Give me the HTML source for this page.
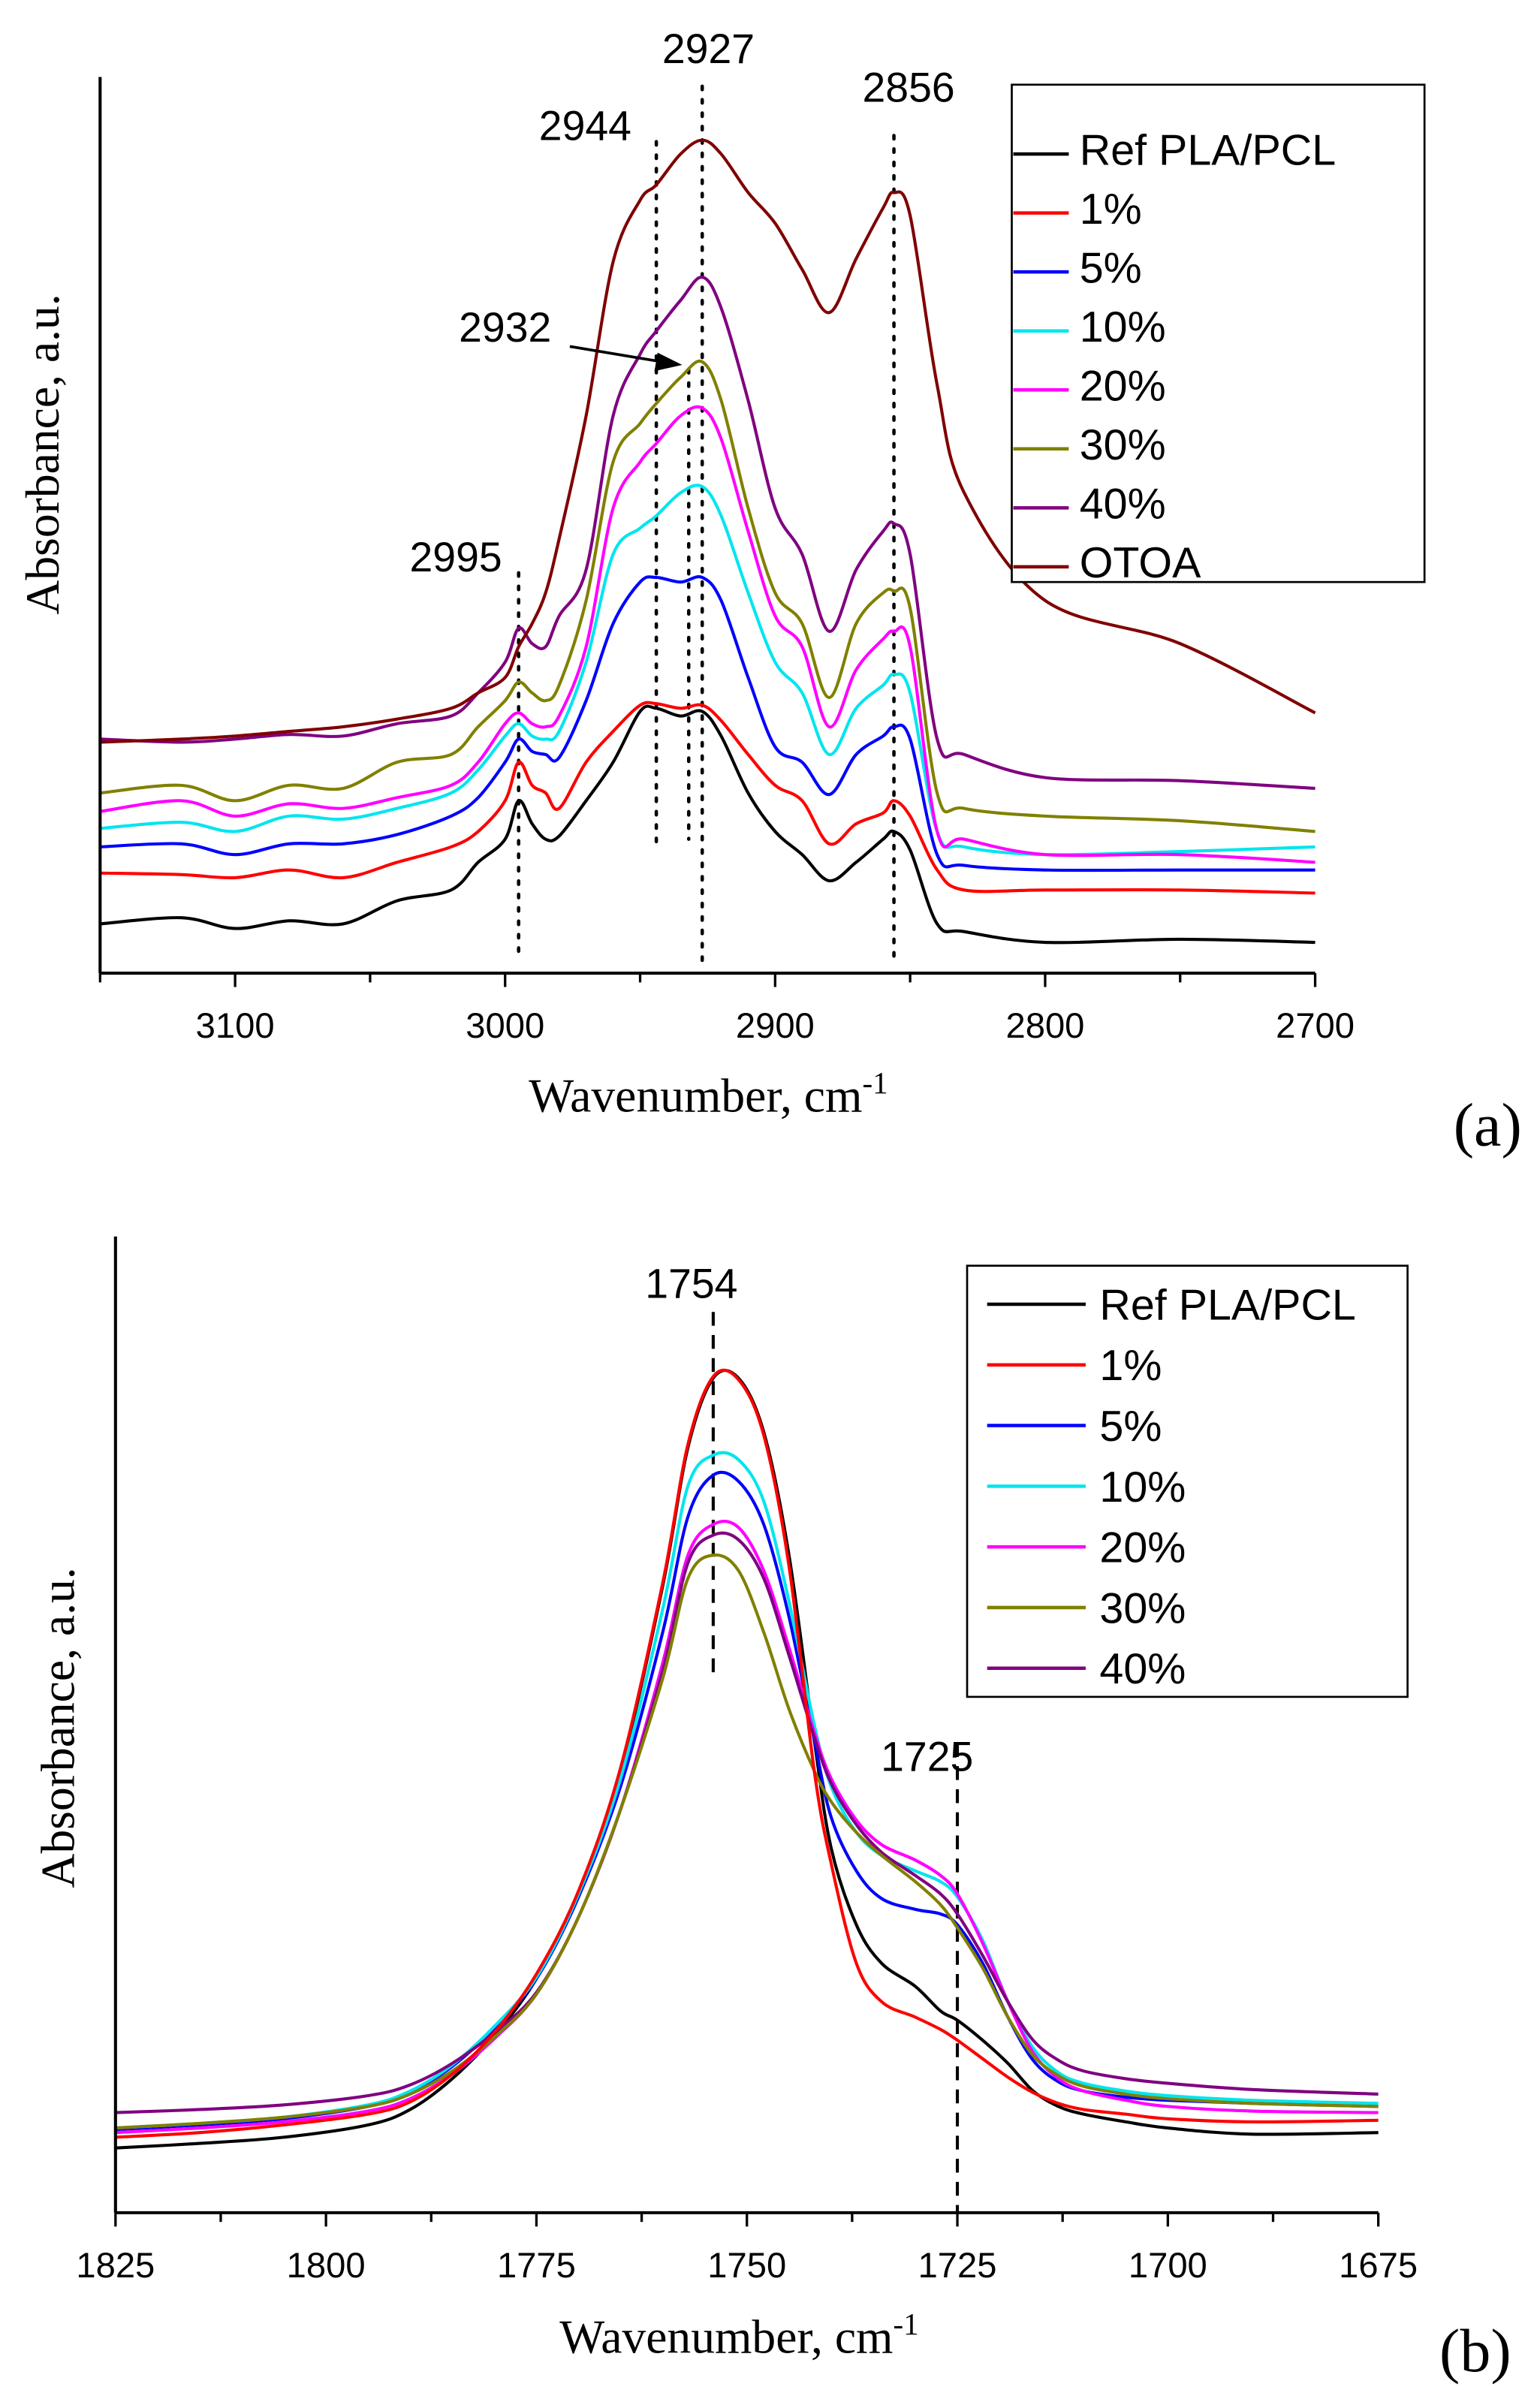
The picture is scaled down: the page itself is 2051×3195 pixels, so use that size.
<!DOCTYPE html>
<html><head><meta charset="utf-8"><style>
html,body{margin:0;padding:0;background:#fff;}
svg{display:block;}
</style></head><body>
<svg id="fig" width="2051" height="3195" viewBox="0 0 1000 1558" preserveAspectRatio="none" xmlns="http://www.w3.org/2000/svg">
<rect width="1000" height="1558" fill="#fff"/>
<g id="pa"></g>
<g id="pb"></g>
</svg>
<script>
// ---------- Panel A data ----------
const waveA = [3150,3120,3100,3080,3060,3040,3020,3010,3000,2995,2990,2985,2980,2970,2960,2950,2944,2935,2927,2920,2910,2900,2890,2880,2870,2860,2856,2850,2840,2830,2800,2750,2700];
const seriesNamesA = ["Ref PLA/PCL","1%","5%","10%","20%","30%","40%","OTOA"];
const refA  = [32,36,29,34,32,47,54,72,87,112,97,87,89,112,137,170,172,167,170,154,117,92,77,60,72,87,92,80,32,27,20,22,20];
const p1A   = [65,64,62,67,62,72,82,92,112,137,122,117,107,137,157,174,175,172,174,164,142,122,112,84,97,104,112,102,67,54,54,54,52];
const p5A   = [82,84,77,84,84,90,102,114,137,152,144,142,140,177,227,254,257,254,257,242,192,147,137,116,142,154,160,152,77,70,67,67,67];
const p10A  = [94,98,92,102,100,107,117,132,154,162,154,152,157,202,272,289,297,312,316,297,247,202,182,142,172,187,194,182,92,82,77,79,82];
const p20A  = [105,112,102,110,107,114,122,137,162,169,162,160,167,212,302,332,344,362,367,347,287,232,212,160,197,217,222,212,92,87,77,77,72];
const p30A  = [117,122,112,122,120,137,142,160,177,189,182,177,187,242,332,357,370,387,397,372,302,247,227,179,227,247,248,237,117,107,102,99,92];
const p40A  = [152,150,152,155,154,162,167,182,202,224,214,212,232,262,362,402,417,437,452,432,372,302,272,222,262,287,292,272,152,142,127,125,120];
const otoaA = [150,152,154,157,160,165,172,182,192,212,227,247,282,362,462,502,512,532,541,532,507,487,457,429,464,497,507,492,382,312,242,214,169];
const ticksA = [3100,3000,2900,2800,2700];
const peaksA = [2995,2944,2932,2927,2856];

// ---------- Panel B data ----------
const waveB = [1825,1815,1805,1795,1790,1785,1780,1775,1770,1765,1760,1757,1754,1751,1748,1745,1742,1740,1737,1734,1730,1727,1725,1722,1719,1716,1713,1710,1705,1700,1690,1675];
const seriesNamesB = ["Ref PLA/PCL","1%","5%","10%","20%","30%","40%"];
const refB = [42,45,49,57,67,87,115,152,207,287,407,497,542,542,507,427,307,237,187,162,147,131,125,112,97,79,69,64,59,55,51,52];
const p1B  = [49,52,57,64,72,90,117,155,209,289,409,499,543,541,505,420,287,227,162,137,127,119,112,100,88,78,71,67,64,61,59,60];
const p5B  = [54,57,61,69,78,95,120,152,205,277,377,452,479,475,447,387,307,257,222,204,197,194,187,162,127,99,85,79,75,73,71,69];
const p10B = [55,58,62,70,79,96,121,153,207,282,392,472,492,489,462,397,317,277,247,232,222,215,205,177,137,107,91,84,79,76,73,71];
const p20B = [52,55,59,66,74,90,113,142,192,262,357,427,447,445,417,367,312,282,255,239,229,219,207,175,137,104,87,79,73,69,66,65];
const p30B = [55,58,62,69,77,92,114,142,192,262,347,412,427,417,377,327,287,267,247,232,215,200,185,159,127,102,89,82,77,74,71,69];
const p40B = [65,67,70,76,83,97,117,143,192,262,352,422,440,437,412,362,309,279,252,234,219,207,194,167,137,112,99,92,87,84,80,77];
const ticksB = [1825,1800,1775,1750,1725,1700,1675];
const peaksB = [1754,1725];

const colorsA = ["#000000","#ff0000","#0000ff","#00e5ee","#ff00ff","#808000","#800080","#800000"];
const NS = "http://www.w3.org/2000/svg";
function mk(tag, attrs, parent){const e=document.createElementNS(NS,tag);for(const k in attrs)e.setAttribute(k,attrs[k]);parent.appendChild(e);return e;}
function smoothPath(pts){
  let d="M"+pts[0][0].toFixed(2)+","+pts[0][1].toFixed(2);
  for(let i=0;i<pts.length-1;i++){
    const p0=pts[Math.max(0,i-1)],p1=pts[i],p2=pts[i+1],p3=pts[Math.min(pts.length-1,i+2)];
    const c1x=p1[0]+(p2[0]-p0[0])/6,c1y=p1[1]+(p2[1]-p0[1])/6;
    const c2x=p2[0]-(p3[0]-p1[0])/6,c2y=p2[1]-(p3[1]-p1[1])/6;
    d+=" C"+c1x.toFixed(2)+","+c1y.toFixed(2)+" "+c2x.toFixed(2)+","+c2y.toFixed(2)+" "+p2[0].toFixed(2)+","+p2[1].toFixed(2);
  }
  return d;
}
function txt(parent,x,y,s,size,anchor,family){const t=mk("text",{x:x,y:y,"font-size":size,"text-anchor":anchor||"middle","font-family":family||"'Liberation Sans', sans-serif",fill:"#000"},parent);t.textContent=s;return t;}

// ===== Panel A =====
(function(){
  const g=document.getElementById("pa");
  const x0=65,x1=854,wn0=3150,wn1=2700,yb=632,yt=50,vmax=582;
  const xs=w=>x0+(wn0-w)*(x1-x0)/(wn0-wn1);
  const ys=v=>yb-v*(yb-yt)/vmax;
  const data=[refA,p1A,p5A,p10A,p20A,p30A,p40A,otoaA];
  const lineRanges={2995:[372,622],2944:[92,552],2932:[240,545],2927:[56,628],2856:[88,625]};
  peaksA.forEach(p=>{
    const r=lineRanges[p]||[60,620];
    const l=mk("line",{x1:xs(p),x2:xs(p),y1:r[0],y2:r[1],stroke:"#000","stroke-width":2.2,"stroke-dasharray":"2.2,6.5","stroke-linecap":"round"},g);
    
    
  });
  data.forEach((s,i)=>{
    const pts=waveA.map((w,j)=>[xs(w),ys(s[j])]);
    const p=mk("path",{d:smoothPath(pts),fill:"none",stroke:colorsA[i],"stroke-width":2,"stroke-linejoin":"round"},g);
    
    
  });
  mk("line",{x1:x0,x2:x0,y1:yt,y2:yb,stroke:"#000","stroke-width":2,},g);
  mk("line",{x1:x0,x2:x1,y1:yb,y2:yb,stroke:"#000","stroke-width":2,},g);
  for(let w=wn0;w>=wn1;w-=50){
    const major=(w%100===0);
    mk("line",{x1:xs(w),x2:xs(w),y1:yb,y2:yb+(major?9:6),stroke:"#000","stroke-width":1.6},g);
  }
  ticksA.forEach(t=>{const e=txt(g,xs(t),674,String(t),23);});
  const xt=txt(g,460,722,"Wavenumber, cm",31,"middle","'Liberation Serif', serif");
  const sup=mk("tspan",{dy:-12,"font-size":20},xt);sup.textContent="-1";
  
  const yt1=txt(g,0,0,"Absorbance, a.u.",31,"middle","'Liberation Serif', serif");
  yt1.setAttribute("transform","translate(38,295) rotate(-90)");
  
  const lab=txt(g,966,744,"(a)",40,"middle","'Liberation Serif', serif");
  
  const pl=[[2927,460,41],[2944,380,91],[2856,590,66],[2995,296,371],[2932,328,222]];
  pl.forEach(a=>{const e=txt(g,a[1],a[2],String(a[0]),27);});
  mk("line",{x1:370,y1:225,x2:430,y2:235,stroke:"#000","stroke-width":1.8},g);
  mk("polygon",{points:"443,237 427,229 425,241",fill:"#000",},g);
  const lg=mk("g",{},g);
  mk("rect",{x:657,y:55,width:268,height:323,fill:"#fff",stroke:"#000","stroke-width":1.3},lg);
  seriesNamesA.forEach((n,i)=>{
    const y=95+i*38.3;
    const e=mk("g",{},lg);
    
    
    mk("line",{x1:658,x2:694,y1:y+5,y2:y+5,stroke:colorsA[i],"stroke-width":2.2},e);
    txt(e,701,y+12,n,28,"start");
  });
})();

// ===== Panel B =====
(function(){
  const g=document.getElementById("pb");
  const x0=75,x1=895,wn0=1825,wn1=1675,yb=1437,yt=803,vmax=634;
  const xs=w=>x0+(wn0-w)*(x1-x0)/(wn0-wn1);
  const ys=v=>yb-v*(yb-yt)/vmax;
  const data=[refB,p1B,p5B,p10B,p20B,p30B,p40B];
  const order=[0,2,3,4,6,5,1];
  const ranges={1754:[852,1090],1725:[1132,1437]};
  peaksB.forEach(p=>{
    const r=ranges[p]||[850,1430];
    const l=mk("line",{x1:xs(p),x2:xs(p),y1:r[0],y2:r[1],stroke:"#000","stroke-width":2,"stroke-dasharray":"9,6"},g);
    
    
  });
  order.forEach(i=>{
    const s=data[i];
    const pts=waveB.map((w,j)=>[xs(w),ys(s[j])]);
    const p=mk("path",{d:smoothPath(pts),fill:"none",stroke:colorsA[i],"stroke-width":2,"stroke-linejoin":"round"},g);
    
    
  });
  mk("line",{x1:x0,x2:x0,y1:yt,y2:yb,stroke:"#000","stroke-width":2,},g);
  mk("line",{x1:x0,x2:x1,y1:yb,y2:yb,stroke:"#000","stroke-width":2,},g);
  for(let k=0;k<=12;k++){
    const w=wn0-k*12.5, major=(k%2===0);
    mk("line",{x1:xs(w),x2:xs(w),y1:yb,y2:yb+(major?9:6),stroke:"#000","stroke-width":1.6},g);
  }
  ticksB.forEach(t=>{const e=txt(g,xs(t),1479,String(t),23);});
  const xt=txt(g,480,1528,"Wavenumber, cm",31,"middle","'Liberation Serif', serif");
  const sup=mk("tspan",{dy:-12,"font-size":20},xt);sup.textContent="-1";
  
  const yt1=txt(g,0,0,"Absorbance, a.u.",31,"middle","'Liberation Serif', serif");
  yt1.setAttribute("transform","translate(48,1122) rotate(-90)");
  
  const lab=txt(g,958,1540,"(b)",40,"middle","'Liberation Serif', serif");
  
  [[1754,449,843],[1725,602,1150]].forEach(a=>{const e=txt(g,a[1],a[2],String(a[0]),27);});
  const lg=mk("g",{},g);
  mk("rect",{x:628,y:822,width:286,height:280,fill:"#fff",stroke:"#000","stroke-width":1.3},lg);
  seriesNamesB.forEach((n,i)=>{
    const y=847+i*39.4;
    const e=mk("g",{},lg);
    
    
    mk("line",{x1:641,x2:705,y1:y,y2:y,stroke:colorsA[i],"stroke-width":2.2},e);
    txt(e,714,y+10,n,28,"start");
  });
})();
</script>
</body></html>
